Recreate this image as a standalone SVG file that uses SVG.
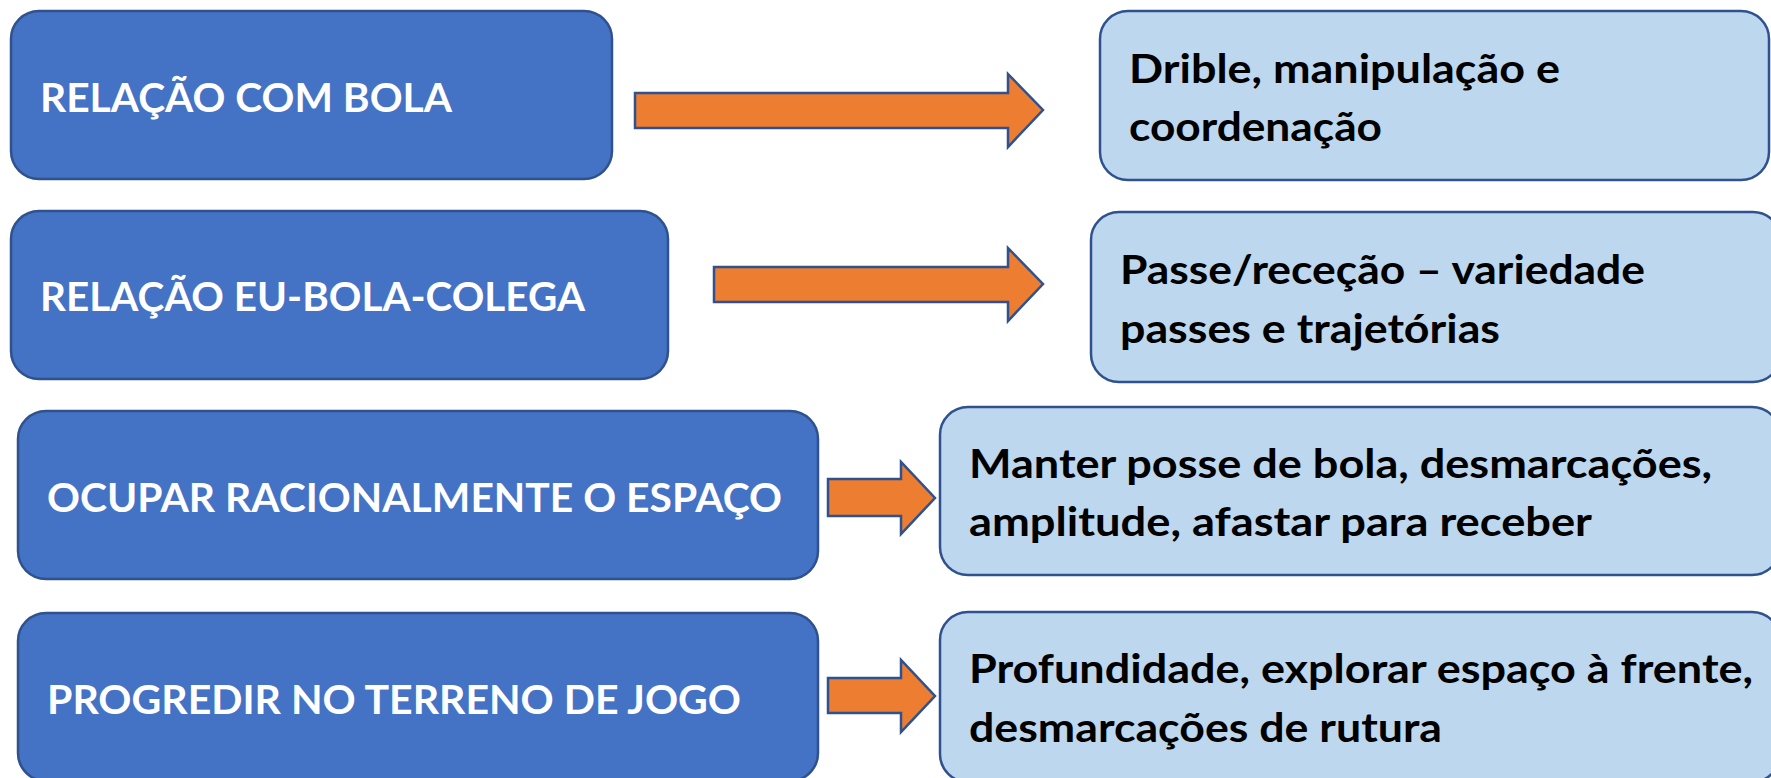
<svg xmlns="http://www.w3.org/2000/svg" width="1771" height="778" viewBox="0 0 1771 778">
<style>
.dark{fill:#4472C4;stroke:#2F528F;stroke-width:2.5}
.light{fill:#BDD7EE;stroke:#2F528F;stroke-width:2.5}
.arr{fill:#ED7D31;stroke:#2F528F;stroke-width:2.5;stroke-linejoin:miter}
.tw{font-family:Lato,"Liberation Sans",sans-serif;font-weight:bold;font-size:41px;fill:#FFFFFF}
.tb{font-family:Lato,"Liberation Sans",sans-serif;font-weight:bold;font-size:41px;fill:#000000}
</style>
<rect width="1771" height="778" fill="#FFFFFF"/>
<g id="n1"><rect class="dark" x="11" y="11" width="601" height="168" rx="28"/><text class="tw" x="40" y="112" textLength="412" lengthAdjust="spacingAndGlyphs">RELAÇÃO COM BOLA</text></g>
<g id="n2"><rect class="dark" x="11" y="211" width="657" height="168" rx="28"/><text class="tw" x="40" y="311" textLength="545" lengthAdjust="spacingAndGlyphs">RELAÇÃO EU-BOLA-COLEGA</text></g>
<g id="n3"><rect class="dark" x="18" y="411" width="800" height="168" rx="28"/><text class="tw" x="47" y="512" textLength="735" lengthAdjust="spacingAndGlyphs">OCUPAR RACIONALMENTE O ESPAÇO</text></g>
<g id="n4"><rect class="dark" x="18" y="613" width="800" height="168" rx="28"/><text class="tw" x="47" y="714" textLength="694" lengthAdjust="spacingAndGlyphs">PROGREDIR NO TERRENO DE JOGO</text></g>
<g id="m1"><rect class="light" x="1100" y="11" width="669" height="169" rx="28"/><text class="tb" x="1129" y="83" textLength="431" lengthAdjust="spacingAndGlyphs">Drible, manipulação e</text><text class="tb" x="1129" y="141" textLength="253" lengthAdjust="spacingAndGlyphs">coordenação</text></g>
<g id="m2"><rect class="light" x="1091" y="212" width="690" height="170" rx="28"/><text class="tb" x="1120" y="284" textLength="525" lengthAdjust="spacingAndGlyphs">Passe/receção – variedade</text><text class="tb" x="1120" y="343" textLength="380" lengthAdjust="spacingAndGlyphs">passes e trajetórias</text></g>
<g id="m3"><rect class="light" x="940" y="407" width="840" height="168" rx="28"/><text class="tb" x="969" y="478" textLength="743" lengthAdjust="spacingAndGlyphs">Manter posse de bola, desmarcações,</text><text class="tb" x="969" y="536" textLength="623" lengthAdjust="spacingAndGlyphs">amplitude, afastar para receber</text></g>
<g id="m4"><rect class="light" x="940" y="612" width="840" height="170" rx="28"/><text class="tb" x="969" y="683" textLength="784" lengthAdjust="spacingAndGlyphs">Profundidade, explorar espaço à frente,</text><text class="tb" x="969" y="742" textLength="473" lengthAdjust="spacingAndGlyphs">desmarcações de rutura</text></g>
<g id="connectors">
<polygon class="arr" points="635,93 1008,93 1008,74 1043,110 1008,147 1008,128 635,128"/>
<polygon class="arr" points="714,267 1008,267 1008,248 1043,284 1008,321 1008,302 714,302"/>
<polygon class="arr" points="828,479 901,479 901,462 935,498 901,534 901,516 828,516"/>
<polygon class="arr" points="828,678 901,678 901,660 935,696 901,732 901,713 828,713"/>
</g>
</svg>
